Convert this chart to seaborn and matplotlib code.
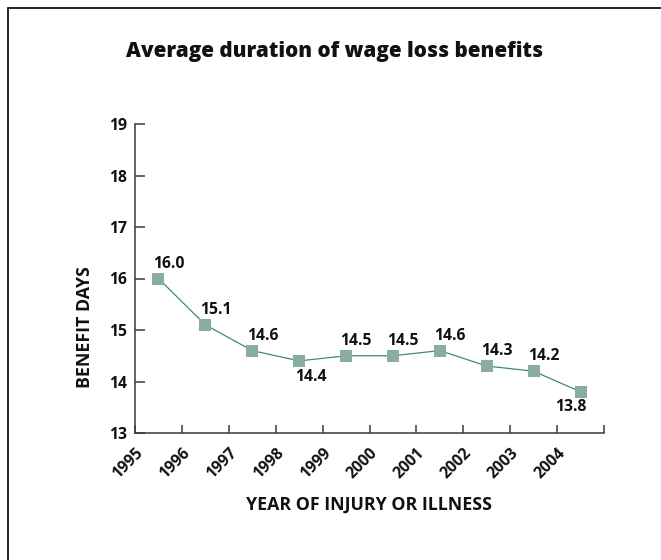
import matplotlib
matplotlib.use("Agg")
import numpy as np
import pandas as pd
import seaborn as sns
import matplotlib.pyplot as plt
from matplotlib.lines import Line2D
from matplotlib.transforms import ScaledTranslation

# --- Data ---
years = ["1995", "1996", "1997", "1998", "1999", "2000", "2001", "2002", "2003", "2004"]
benefit_days = [16.0, 15.1, 14.6, 14.4, 14.5, 14.5, 14.6, 14.3, 14.2, 13.8]
value_labels = ["16.0", "15.1", "14.6", "14.4", "14.5", "14.5", "14.6", "14.3", "14.2", "13.8"]
y_ticks = [13, 14, 15, 16, 17, 18, 19]

# --- Style ---
LINE_COLOR = "#3d8c70"
MARKER_COLOR = "#89ae9d"
AXIS_COLOR = "#3a3a3a"
TEXT_COLOR = "#111111"
TICK_FS = 11.3

sns.set_theme(style="white")
plt.rcParams["font.family"] = ["Open Sans", "DejaVu Sans"]

df = pd.DataFrame({"pos": np.arange(len(years)) + 0.5, "days": benefit_days})

fig = plt.figure(figsize=(6.61, 5.60), dpi=100)
ax = fig.add_axes([135 / 661, 1 - 433 / 560, 469 / 661, 309 / 560])

sns.lineplot(data=df, x="pos", y="days", ax=ax, color=LINE_COLOR, linewidth=0.9,
             marker="s", markersize=9, markerfacecolor=MARKER_COLOR,
             markeredgecolor=MARKER_COLOR, markeredgewidth=0)

ax.set_xlim(0, len(years))
ax.set_ylim(13, 19)

# value labels: most sit above the point, a couple below
below = {3: 12, 9: -10}
for i, (x, y, lab) in enumerate(zip(df["pos"], df["days"], value_labels)):
    if i in below:
        ax.annotate(lab, (x, y), xytext=(below[i] * 0.72, -5.5), textcoords="offset points",
                    ha="center", va="top", fontsize=TICK_FS, fontweight="bold", color=TEXT_COLOR)
    else:
        ax.annotate(lab, (x, y), xytext=(-4, 5), textcoords="offset points",
                    ha="left", va="bottom", fontsize=TICK_FS, fontweight="bold", color=TEXT_COLOR)

# spines / ticks
for side in ["top", "right"]:
    ax.spines[side].set_visible(False)
for side in ["left", "bottom"]:
    ax.spines[side].set_color(AXIS_COLOR)
    ax.spines[side].set_linewidth(1.1)

ax.set_yticks(y_ticks)
ax.set_yticklabels([str(t) for t in y_ticks])
ax.set_xticks(np.arange(len(years) + 1))
ax.set_xticklabels(years + [""])

ax.tick_params(axis="y", direction="in", length=7, width=1.1, color=AXIS_COLOR,
               labelsize=TICK_FS, pad=6, labelcolor=TEXT_COLOR, left=True)
ax.tick_params(axis="x", direction="in", length=6, width=1.1, color=AXIS_COLOR,
               labelsize=TICK_FS, pad=13, labelcolor=TEXT_COLOR, bottom=True)
for lab in ax.get_yticklabels():
    lab.set_fontweight("bold")
for lab in ax.get_xticklabels():
    lab.set_fontweight("bold")
    lab.set_rotation(45)
    lab.set_ha("right")
    lab.set_va("center")
    lab.set_rotation_mode("anchor")
    lab.set_transform(lab.get_transform() + ScaledTranslation(6 / 100, 0, fig.dpi_scale_trans))

ax.set_xlabel("YEAR OF INJURY OR ILLNESS", fontsize=12.8, fontweight="bold", color=TEXT_COLOR)
ax.xaxis.set_label_coords(0.5, -0.233)
ax.xaxis.label.set_va("center")
ax.set_ylabel("BENEFIT DAYS", fontsize=12.8, fontweight="bold", color=TEXT_COLOR)
ax.yaxis.set_label_coords(-0.107, 0.343)
ax.yaxis.label.set_va("center")

fig.text(335 / 661, 1 - 52 / 560, "Average duration of wage loss benefits",
         ha="center", va="center", fontsize=14.9, fontweight="heavy", color=TEXT_COLOR)

# frame lines (top and left edges of the panel)
fig.add_artist(Line2D([8 / 661, 8 / 661], [0, 1 - 8 / 560], transform=fig.transFigure,
                      color="#222222", linewidth=1.4))
fig.add_artist(Line2D([8 / 661, 1], [1 - 8 / 560, 1 - 8 / 560], transform=fig.transFigure,
                      color="#222222", linewidth=1.4))

fig.savefig("out.png", dpi=100)
